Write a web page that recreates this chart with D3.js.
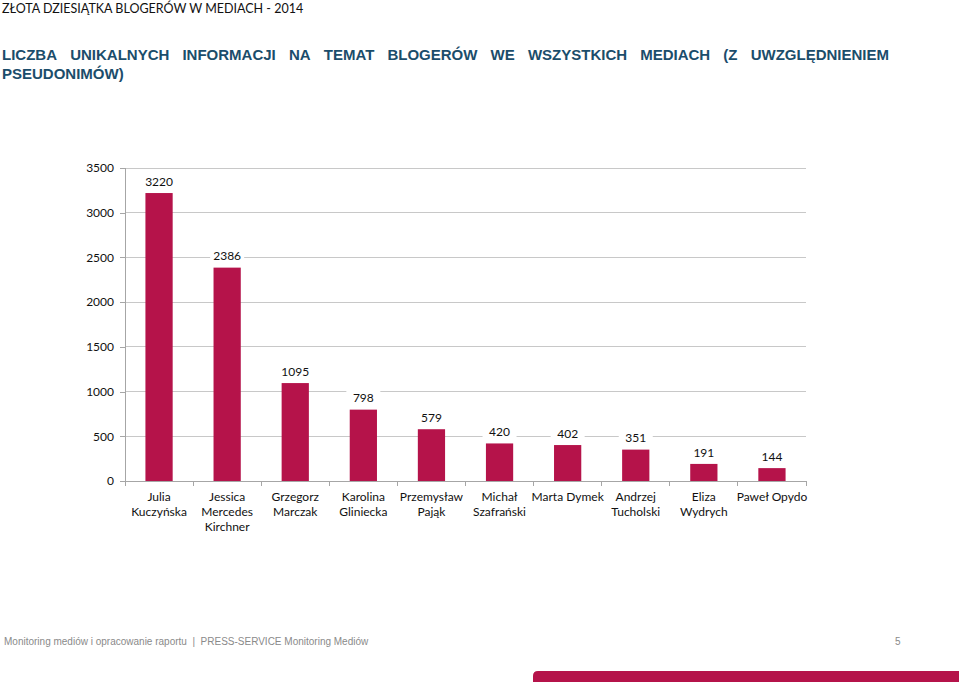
<!DOCTYPE html>
<html><head><meta charset="utf-8">
<script src="https://cdn.jsdelivr.net/npm/d3@7/dist/d3.min.js"></script>
<style>body{margin:0;background:#fff;}svg{display:block;}</style>
</head><body>
<svg id="c" width="959" height="682"></svg>
<script>
const categories = [["Julia","Kuczyńska"],["Jessica","Mercedes","Kirchner"],["Grzegorz","Marczak"],["Karolina","Gliniecka"],["Przemysław","Pająk"],["Michał","Szafrański"],["Marta Dymek"],["Andrzej","Tucholski"],["Eliza","Wydrych"],["Paweł Opydo"]];
const values = [3220,2386,1095,798,579,420,402,351,191,144];
const yTicks = [0,500,1000,1500,2000,2500,3000,3500];
const header = "ZŁOTA DZIESIĄTKA BLOGERÓW W MEDIACH - 2014";
const titleLine1 = "LICZBA UNIKALNYCH INFORMACJI NA TEMAT BLOGERÓW WE WSZYSTKICH MEDIACH (Z UWZGLĘDNIENIEM";
const titleLine2 = "PSEUDONIMÓW)";
const footer = "Monitoring mediów i opracowanie raportu  |  PRESS-SERVICE Monitoring Mediów";
const pageNo = "5";

const svg = d3.select("#c");
const barColor = "#b5134a";
const calib = "Lato, 'Open Sans', sans-serif";

svg.append("text").attr("x",2).attr("y",13).attr("font-family",calib).attr("font-size",12.5).attr("fill","#111").text(header);

// justified title line
const tg = svg.append("g").attr("font-family","'Liberation Sans', Arial, sans-serif").attr("font-weight","bold").attr("font-size",15).attr("fill","#1b4d6b");
const words = titleLine1.split(" ");
const tmp = words.map(w => tg.append("text").attr("y",60).text(w));
const widths = tmp.map(t => t.node().getComputedTextLength());
const x0 = 2, x1 = 889;
const gap = (x1 - x0 - d3.sum(widths)) / (words.length - 1);
let cx = x0;
tmp.forEach((t,i) => { t.attr("x",cx); cx += widths[i] + gap; });
tg.append("text").attr("x",x0).attr("y",79).text(titleLine2);

const m = {left:125, right:806, top:168, bottom:481};
const x = d3.scaleBand().domain(d3.range(values.length)).range([m.left,m.right]).paddingInner(0.6).paddingOuter(0.3);
const xb = d3.scaleBand().domain(d3.range(values.length)).range([m.left,m.right]);
const y = d3.scaleLinear().domain([0,3500]).range([m.bottom,m.top]);

// gridlines
svg.append("g").selectAll("line").data(yTicks.filter(d=>d>0)).join("line")
  .attr("x1",m.left).attr("x2",m.right).attr("y1",d=>y(d)).attr("y2",d=>y(d))
  .attr("stroke","#c8c8c8").attr("stroke-width",1).attr("shape-rendering","crispEdges");

// y axis
const ya = svg.append("g").attr("transform",`translate(${m.left},0)`).call(d3.axisLeft(y).tickValues(yTicks).tickFormat(d3.format("d")).tickSize(5).tickPadding(6));
ya.select(".domain").attr("stroke","#a6a6a6").attr("shape-rendering","crispEdges");
ya.selectAll(".tick line").attr("stroke","#a6a6a6").attr("shape-rendering","crispEdges");
ya.selectAll("text").attr("font-family",calib).attr("font-size",12).attr("fill","#111");

// bars
svg.append("g").selectAll("rect").data(values).join("rect")
  .attr("x",(d,i)=>x(i)).attr("width",x.bandwidth())
  .attr("y",d=>y(d)).attr("height",d=>y(0)-y(d)).attr("fill",barColor);

// x axis
const xa = svg.append("g").attr("transform",`translate(0,${m.bottom})`);
xa.append("line").attr("x1",m.left).attr("x2",m.right).attr("stroke","#a6a6a6").attr("shape-rendering","crispEdges");
xa.selectAll("line.t").data(d3.range(values.length+1)).join("line").attr("class","t")
  .attr("x1",i=>m.left + i*xb.step()).attr("x2",i=>m.left + i*xb.step()).attr("y1",0).attr("y2",5)
  .attr("stroke","#a6a6a6").attr("shape-rendering","crispEdges");
const lab = xa.selectAll("text").data(categories).join("text")
  .attr("text-anchor","middle").attr("font-family",calib).attr("font-size",12).attr("fill","#111");
lab.each(function(d,i){
  d3.select(this).selectAll("tspan").data(d).join("tspan")
    .attr("x",xb(i)+xb.bandwidth()/2).attr("y",(s,j)=>20+j*15).text(s=>s);
});

// value labels with white background
const vl = svg.append("g").selectAll("g").data(values).join("g")
  .attr("transform",(d,i)=>`translate(${x(i)+x.bandwidth()/2},${y(d)-11.5})`);
vl.append("rect").attr("x",-17).attr("y",-8).attr("width",34).attr("height",16).attr("fill","#fff");
vl.append("text").attr("text-anchor","middle").attr("dy","0.35em").attr("font-family",calib).attr("font-size",12).attr("fill","#111").text(d=>d);

// footer
const ff = "'Liberation Sans', Arial, sans-serif";
svg.append("text").attr("x",4).attr("y",645).attr("font-family",ff).attr("font-size",10).attr("fill","#8a8a8a").style("white-space","pre").text(footer);
svg.append("text").attr("x",895).attr("y",645).attr("font-family",ff).attr("font-size",10).attr("fill","#8a8a8a").text(pageNo);
svg.append("path").attr("d","M533,682 L533,676 Q533,671 538,671 L959,671 L959,682 Z").attr("fill",barColor);
</script>
</body></html>
